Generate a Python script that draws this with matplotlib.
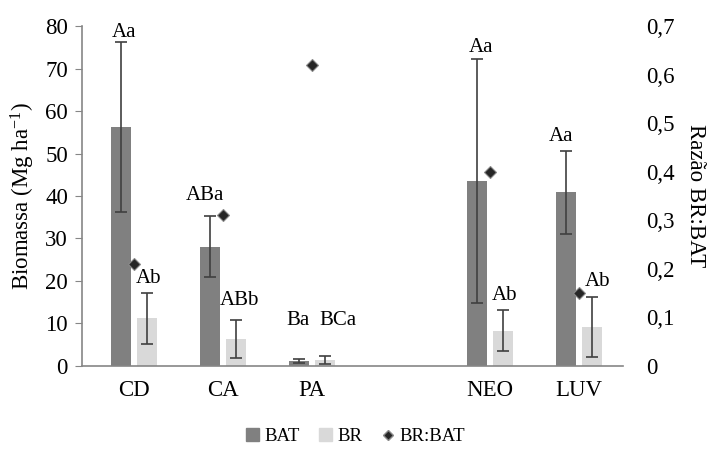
import numpy as np
import matplotlib
matplotlib.use("Agg")
import matplotlib.pyplot as plt
from matplotlib.lines import Line2D
from matplotlib.patches import Patch

plt.rcParams['font.family'] = ['Liberation Serif', 'DejaVu Serif']
plt.rcParams['mathtext.fontset'] = 'custom'
plt.rcParams['mathtext.rm'] = 'Liberation Serif'
plt.rcParams['mathtext.default'] = 'regular'

# data
categories = ["CD", "CA", "PA", "", "NEO", "LUV"]
bat = [56.3, 28.1, 1.2, np.nan, 43.6, 40.9]
bat_err = [20.0, 7.2, 0.5, np.nan, 28.7, 9.8]
br = [11.2, 6.4, 1.4, np.nan, 8.3, 9.2]
br_err = [6.0, 4.5, 1.0, np.nan, 4.8, 7.0]
ratio = [0.21, 0.31, 0.62, np.nan, 0.40, 0.15]
bat_labels = ["Aa", "ABa", "Ba", "", "Aa", "Aa"]
br_labels = ["Ab", "ABb", "BCa", "", "Ab", "Ab"]
bat_label_y = [78.4, 40.2, 10.8, np.nan, 75.0, 53.9]
br_label_y = [20.5, 15.5, 10.8, np.nan, 16.5, 19.8]

# small horizontal nudges of the letter labels (points)
bat_dx = [2, -4, -1, 0, 3, -4]
br_dx = [1, 2, 9, 0, 1, 4]

x = np.arange(len(categories))
w = 0.225
off = 0.146

fig = plt.figure(figsize=(7.11, 4.49), dpi=100)
ax = fig.add_axes([0.115, 0.185, 0.761, 0.757])

ekw = dict(ecolor="#404040", elinewidth=1.2, capsize=4, capthick=1.2)
ax.bar(x - off, bat, w, color="#808080", yerr=bat_err, error_kw=ekw, zorder=2)
ax.bar(x + off, br, w, color="#d9d9d9", yerr=br_err, error_kw=ekw, zorder=2)

for i in range(len(categories)):
    if bat_labels[i]:
        ax.annotate(bat_labels[i], (x[i] - off, bat_label_y[i]), xytext=(bat_dx[i], 0),
                    textcoords="offset points", ha="center", va="center", fontsize=15)
        ax.annotate(br_labels[i], (x[i] + off, br_label_y[i]), xytext=(br_dx[i], 0),
                    textcoords="offset points", ha="center", va="center", fontsize=15)

ax.set_xlim(-0.59, 5.49)
ax.set_ylim(0, 80)
ax.set_yticks(range(0, 81, 10))
ax.set_xticks(x)
ax.set_xticklabels(categories, fontsize=16.5)
ax.tick_params(axis="x", length=0, pad=10)
ax.tick_params(axis="y", labelsize=16.5, length=5, color="#868686", pad=5)
ax.set_ylabel("Biomassa (Mg ha$^{-1}$)", fontsize=16.5, labelpad=6)
for s in ["top", "right"]:
    ax.spines[s].set_visible(False)
for s in ["left", "bottom"]:
    ax.spines[s].set_color("#868686")
    ax.spines[s].set_linewidth(1.2)

ax2 = ax.twinx()
ax2.plot(x, ratio, linestyle="none", marker="D", markersize=6.5, color="#262626",
         markeredgecolor="#8a8a8a", markeredgewidth=0.8, zorder=3)
ax2.set_ylim(0, 0.7)
ax2.set_yticks(np.arange(0, 0.71, 0.1))
ax2.set_yticklabels(["0"] + ["0,%d" % i for i in range(1, 8)])
ax2.tick_params(axis="y", labelsize=16.5, length=0, pad=17)
ax2.set_ylabel("Razão BR:BAT", fontsize=16.5, rotation=-90, labelpad=22)
for s in ["top", "right", "left", "bottom"]:
    ax2.spines[s].set_visible(False)

handles = [
    Patch(color="#808080", label="BAT"),
    Patch(color="#d9d9d9", label="BR"),
    Line2D([], [], linestyle="none", marker="D", markersize=5, color="#262626",
           markeredgecolor="#8a8a8a", label="BR:BAT"),
]
fig.legend(handles=handles, loc="center", bbox_to_anchor=(0.5, 0.027), ncol=3,
           frameon=False, fontsize=13.5, handlelength=0.7, handleheight=0.7,
           handletextpad=0.3, columnspacing=1.0)

fig.savefig("out.png", dpi=100)
